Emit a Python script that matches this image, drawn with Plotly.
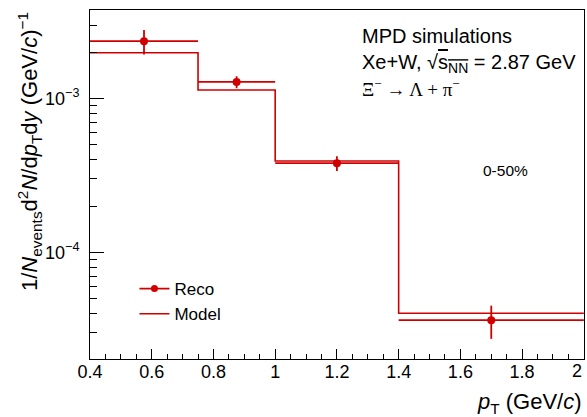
import plotly.graph_objects as go

# ---- data ----
bin_edges = [0.4, 0.75, 1.0, 1.4, 2.0]
bin_centers = [0.575, 0.875, 1.2, 1.7]
reco_vals = [2.37e-3, 1.285e-3, 3.80e-4, 3.61e-5]
reco_errs = [0.43e-3, 0.115e-3, 0.42e-4, 0.88e-5]
model_vals = [1.99e-3, 1.14e-3, 3.93e-4, 4.01e-5]
y_major_ticks = [1e-4, 1e-3]
y_major_text = ["10<sup>−4</sup>", "10<sup>−3</sup>"]
x_last_tick = 2.0
x_last_text = "2"

RED = "#d00000"
FONT = "Liberation Sans"

half_widths = [(bin_edges[i + 1] - bin_edges[i]) / 2 for i in range(len(bin_centers))]
minor_y = [m * 10.0 ** e for e in range(-5, -1) for m in range(2, 10)]

fig = go.Figure()

# legend entry for Reco (marker + line, like the reference legend)
fig.add_trace(go.Scatter(
    x=[None], y=[None], mode="lines+markers",
    line=dict(color=RED, width=1.6),
    marker=dict(color=RED, size=7),
    name="Reco", showlegend=True,
))

# Model histogram (step)
fig.add_trace(go.Scatter(
    x=bin_edges,
    y=model_vals + [model_vals[-1]],
    mode="lines",
    line=dict(color=RED, width=1.6, shape="hv"),
    name="Model",
))

# Reco points
fig.add_trace(go.Scatter(
    x=bin_centers,
    y=reco_vals,
    mode="markers",
    marker=dict(color=RED, size=8, symbol="circle"),
    error_y=dict(type="data", array=reco_errs, visible=True, color=RED, thickness=1.8, width=0),
    error_x=dict(type="data", array=half_widths, visible=True, color=RED, thickness=1.8, width=0),
    name="Reco", showlegend=False,
))

fig.update_layout(
    width=587, height=417,
    margin=dict(l=90, r=3, t=10, b=58, autoexpand=False),
    paper_bgcolor="white", plot_bgcolor="white",
    font=dict(family=FONT, size=16, color="black"),
    showlegend=True,
    legend=dict(
        x=0.09, y=0.252, xanchor="left", yanchor="top",
        bgcolor="rgba(0,0,0,0)", font=dict(size=17, family=FONT),
        traceorder="normal", itemwidth=30, tracegroupgap=0,
    ),
    xaxis=dict(
        range=[0.4, 2.0005], showgrid=False, zeroline=False,
        showline=True, linecolor="black", linewidth=1, mirror=True,
        ticks="inside", ticklen=10, tickcolor="black",
        tick0=0.4, dtick=0.2,
        minor=dict(ticks="inside", ticklen=5, dtick=0.05, tick0=0.4, tickcolor="black", showgrid=False),
        tickfont=dict(size=18, family=FONT),
        ticklabelstandoff=-4,
        automargin=False,
    ),
    yaxis=dict(
        type="log", range=[-4.695, -2.4225], showgrid=False, zeroline=False,
        showline=True, linecolor="black", linewidth=1, mirror=True,
        ticks="inside", ticklen=14, tickcolor="black",
        tickvals=y_major_ticks, ticktext=y_major_text,
        minor=dict(ticks="inside", ticklen=7, tickvals=minor_y, tickcolor="black", showgrid=False),
        tickfont=dict(size=18, family=FONT),
        ticklabelstandoff=6,
        automargin=False,
    ),
)

ann = []
# last x tick label (kept inside the page like the reference)
ann.append(dict(
    text=x_last_text, xref="x", yref="paper", x=x_last_tick, y=(359 - 371) / 349,
    xanchor="right", yanchor="middle", showarrow=False,
    font=dict(size=18, family=FONT),
))
# axis titles
ann.append(dict(
    text="<i>p</i><sub>T</sub> (GeV/<i>c</i>)",
    xref="paper", yref="paper", x=1.0, y=-0.08, xanchor="right", yanchor="top",
    showarrow=False, font=dict(size=22, family=FONT),
))
ann.append(dict(
    text="1/<i>N</i><sub>events</sub>d<sup>2</sup><i>N</i>/d<i>p</i><sub>T</sub>d<i>y</i> (GeV/<i>c</i>)<sup>−1</sup>",
    xref="paper", yref="paper", x=(12 - 90) / 494, y=1.0, xanchor="left", yanchor="top",
    textangle=-90, showarrow=False, font=dict(size=22, family=FONT),
))
# labels
ann.append(dict(
    text="MPD simulations", xref="paper", yref="paper",
    x=(360 - 90) / 494, y=1 - (36 - 10) / 349, xanchor="left", yanchor="middle",
    showarrow=False, font=dict(size=20, family=FONT),
))
ann.append(dict(
    text="Xe+W, √<span style=\"text-decoration:overline\">s<sub>NN</sub></span> = 2.87 GeV",
    xref="paper", yref="paper",
    x=(360 - 90) / 494, y=1 - (63 - 10) / 349, xanchor="left", yanchor="middle",
    showarrow=False, font=dict(size=20, family=FONT),
))
ann.append(dict(
    text="Ξ<sup>−</sup> → Λ + π<sup>−</sup>",
    xref="paper", yref="paper",
    x=(360 - 90) / 494, y=1 - (88 - 10) / 349, xanchor="left", yanchor="middle",
    showarrow=False, font=dict(size=19, family="Liberation Serif"),
))
ann.append(dict(
    text="0-50%", xref="paper", yref="paper",
    x=(481 - 90) / 494, y=1 - (170 - 10) / 349, xanchor="left", yanchor="middle",
    showarrow=False, font=dict(size=15.5, family=FONT),
))
fig.update_layout(annotations=ann)

fig.write_html("out.html")
